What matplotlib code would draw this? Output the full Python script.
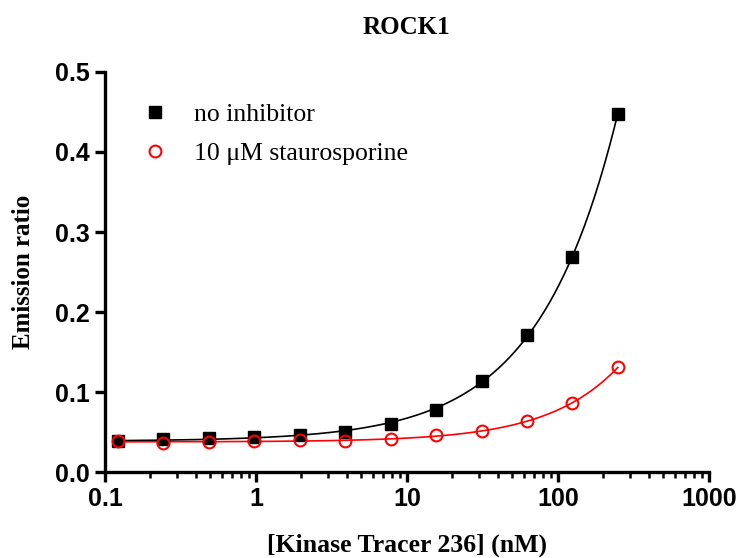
import matplotlib
matplotlib.use("Agg")
import matplotlib.pyplot as plt
from matplotlib.ticker import FixedLocator, LogLocator, NullFormatter
import numpy as np

# tracer concentration (nM), 2-fold dilution series
tracer_nM = [0.122, 0.244, 0.488, 0.977, 1.95, 3.91, 7.81, 15.6, 31.25, 62.5, 125, 250]
no_inhibitor = [0.039, 0.041, 0.043, 0.044, 0.046, 0.050, 0.060, 0.077, 0.114, 0.171, 0.269, 0.448]
stauro = [0.039, 0.036, 0.037, 0.039, 0.040, 0.039, 0.041, 0.046, 0.051, 0.064, 0.086, 0.131]

x_ticks = [0.1, 1, 10, 100, 1000]
x_ticklabels = ["0.1", "1", "10", "100", "1000"]
y_ticks = [0.0, 0.1, 0.2, 0.3, 0.4, 0.5]

SERIF = "Liberation Serif"
SANS = "Liberation Sans"


def fit_curve(x, y, xs):
    # y = c + a * x**p, least squares over a grid of p
    x = np.asarray(x, float)
    y = np.asarray(y, float)
    best = None
    for p in np.linspace(0.3, 1.5, 241):
        A = np.column_stack([np.ones_like(x), x ** p])
        coef, *_ = np.linalg.lstsq(A, y, rcond=None)
        sse = np.sum((A @ coef - y) ** 2)
        if best is None or sse < best[0]:
            best = (sse, p, coef)
    _, p, coef = best
    return coef[0] + coef[1] * xs ** p


fig = plt.figure(figsize=(7.39, 5.58), dpi=100)
ax = fig.add_axes([0.142, 0.154, 0.817, 0.717])

xs = np.logspace(np.log10(tracer_nM[0]), np.log10(tracer_nM[-1]), 300)
ax.plot(xs, fit_curve(tracer_nM, no_inhibitor, xs), color="black", lw=1.2, zorder=2)
ax.plot(xs, fit_curve(tracer_nM, stauro, xs), color="red", lw=1.2, zorder=2)

ax.plot(tracer_nM, no_inhibitor, ls="none", marker="s", ms=8.5, color="black",
        label="no inhibitor", zorder=3)
ax.plot(tracer_nM, stauro, ls="none", marker="o", ms=8.5, mfc="none", mec="red",
        mew=1.5, label="10 \u03bcM staurosporine", zorder=4)

ax.set_xscale("log")
ax.set_xlim(0.1, 1000)
ax.set_ylim(0, 0.5)
ax.xaxis.set_major_locator(FixedLocator(x_ticks))
ax.set_xticklabels(x_ticklabels)
ax.xaxis.set_minor_locator(LogLocator(base=10, subs=np.arange(2, 10)))
ax.xaxis.set_minor_formatter(NullFormatter())
ax.set_yticks(y_ticks)
ax.set_yticklabels([f"{v:.1f}" for v in y_ticks])

for s in ("top", "right"):
    ax.spines[s].set_visible(False)
for s in ("left", "bottom"):
    ax.spines[s].set_linewidth(2.4)

ax.tick_params(which="major", direction="out", length=7, width=2.4, pad=4)
ax.tick_params(which="minor", direction="out", length=4, width=1.8)
for lab in ax.get_xticklabels() + ax.get_yticklabels():
    lab.set_fontfamily(SANS)
    lab.set_fontweight("bold")
    lab.set_fontsize(18)

ax.set_xlabel("[Kinase Tracer 236] (nM)", fontfamily=SERIF, fontweight="bold",
              fontsize=18.5, labelpad=16)
ax.set_ylabel("Emission ratio", fontfamily=SERIF, fontweight="bold",
              fontsize=18, labelpad=14)
ax.set_title("ROCK1", fontfamily=SERIF, fontweight="bold", fontsize=18, pad=27)

ax.legend(loc="upper left", bbox_to_anchor=(0.062, 0.922), frameon=False,
          prop={"family": SERIF, "size": 18.5}, handlelength=1.0,
          handletextpad=1.0, labelspacing=0.62, borderpad=0, borderaxespad=0)

fig.savefig("out.png", dpi=100)
